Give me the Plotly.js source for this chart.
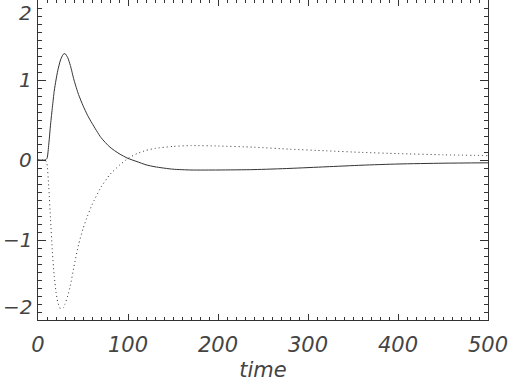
<!DOCTYPE html>
<html>
<head>
<meta charset="utf-8">
<script src="https://cdn.plot.ly/plotly-3.0.1.min.js"></script>
<style>
  html, body { margin: 0; padding: 0; background: #fff; }
  #chart { width: 511px; height: 382px; }
</style>
</head>
<body>
<div id="chart"></div>
<script>
// values
const time = [0, 8, 10, 12, 14, 16, 18, 20, 22, 25, 28, 30, 33, 36, 40, 45, 50, 55, 60, 70, 80, 90, 100,
  110, 120, 130, 150, 170, 200, 240, 280, 320, 360, 400, 450, 500];
const solidVals = [0, 0, 0.02, 0.2, 0.45, 0.66, 0.86, 1.0, 1.12, 1.25, 1.32, 1.33, 1.28, 1.18, 1.0, 0.82, 0.68, 0.56, 0.46, 0.28, 0.16, 0.08, 0.02,
  -0.02, -0.06, -0.085, -0.115, -0.125, -0.125, -0.12, -0.105, -0.085, -0.065, -0.05, -0.04, -0.035];
const dottedVals = [0, 0, -0.05, -0.35, -0.75, -1.15, -1.45, -1.65, -1.78, -1.86, -1.85, -1.8, -1.7, -1.57, -1.33, -1.06, -0.86, -0.7, -0.56, -0.34, -0.18, -0.07, 0.02,
  0.08, 0.12, 0.145, 0.17, 0.18, 0.175, 0.16, 0.135, 0.115, 0.095, 0.08, 0.065, 0.055];

const xTickVals = [0, 100, 200, 300, 400, 500];
const yTickVals = [-2, -1, 0, 1, 2];
const yTickText = ['\u22122', '\u22121', '0', '1', '2'];

const ink = '#333';
const labelFont = { family: 'DejaVu Sans', size: 21, color: '#444', style: 'italic' };
const yLabelFont = { family: 'DejaVu Sans', size: 20, color: '#444', style: 'italic' };

const traces = [
  {
    x: time, y: dottedVals, type: 'scatter', mode: 'lines',
    line: { color: ink, width: 1, dash: '1px,3px', shape: 'spline', smoothing: 0.5 }
  },
  {
    x: time, y: solidVals, type: 'scatter', mode: 'lines',
    line: { color: ink, width: 1, shape: 'spline', smoothing: 0.6 }
  }
];

// y tick labels as annotations so the end labels sit inside like the original
const annotations = yTickVals.map((v, i) => ({
  xref: 'paper', yref: 'y', x: 0, y: v,
  xanchor: 'right', xshift: -5, borderpad: 0,
  yanchor: i === 0 ? 'bottom' : (i === yTickVals.length - 1 ? 'top' : 'middle'),
  text: yTickText[i], showarrow: false, font: yLabelFont
}));

const layout = {
  width: 511, height: 382,
  margin: { l: 38, r: 23, t: 0, b: 62 },
  paper_bgcolor: '#fff', plot_bgcolor: '#fff',
  showlegend: false,
  xaxis: {
    range: [0, 500], tickvals: xTickVals, ticks: 'inside', ticklen: 6, tickcolor: ink,
    minor: { dtick: 10, ticks: 'inside', ticklen: 3, tickcolor: ink, showgrid: false },
    showline: true, linecolor: ink, linewidth: 1, mirror: 'ticks',
    showgrid: false, zeroline: false, tickfont: labelFont, ticklabelstandoff: 6,
    title: { text: 'time', font: labelFont, standoff: 16 }
  },
  yaxis: {
    range: [-2, 2], tickvals: yTickVals, ticks: 'inside', ticklen: 8, tickcolor: ink,
    minor: { dtick: 0.1, ticks: 'inside', ticklen: 4, tickcolor: ink, showgrid: false },
    showline: true, linecolor: ink, linewidth: 1, mirror: 'ticks',
    showgrid: false, zeroline: false, showticklabels: false
  },
  annotations: annotations
};

Plotly.newPlot('chart', traces, layout, { displayModeBar: false, staticPlot: true });
</script>
</body>
</html>
